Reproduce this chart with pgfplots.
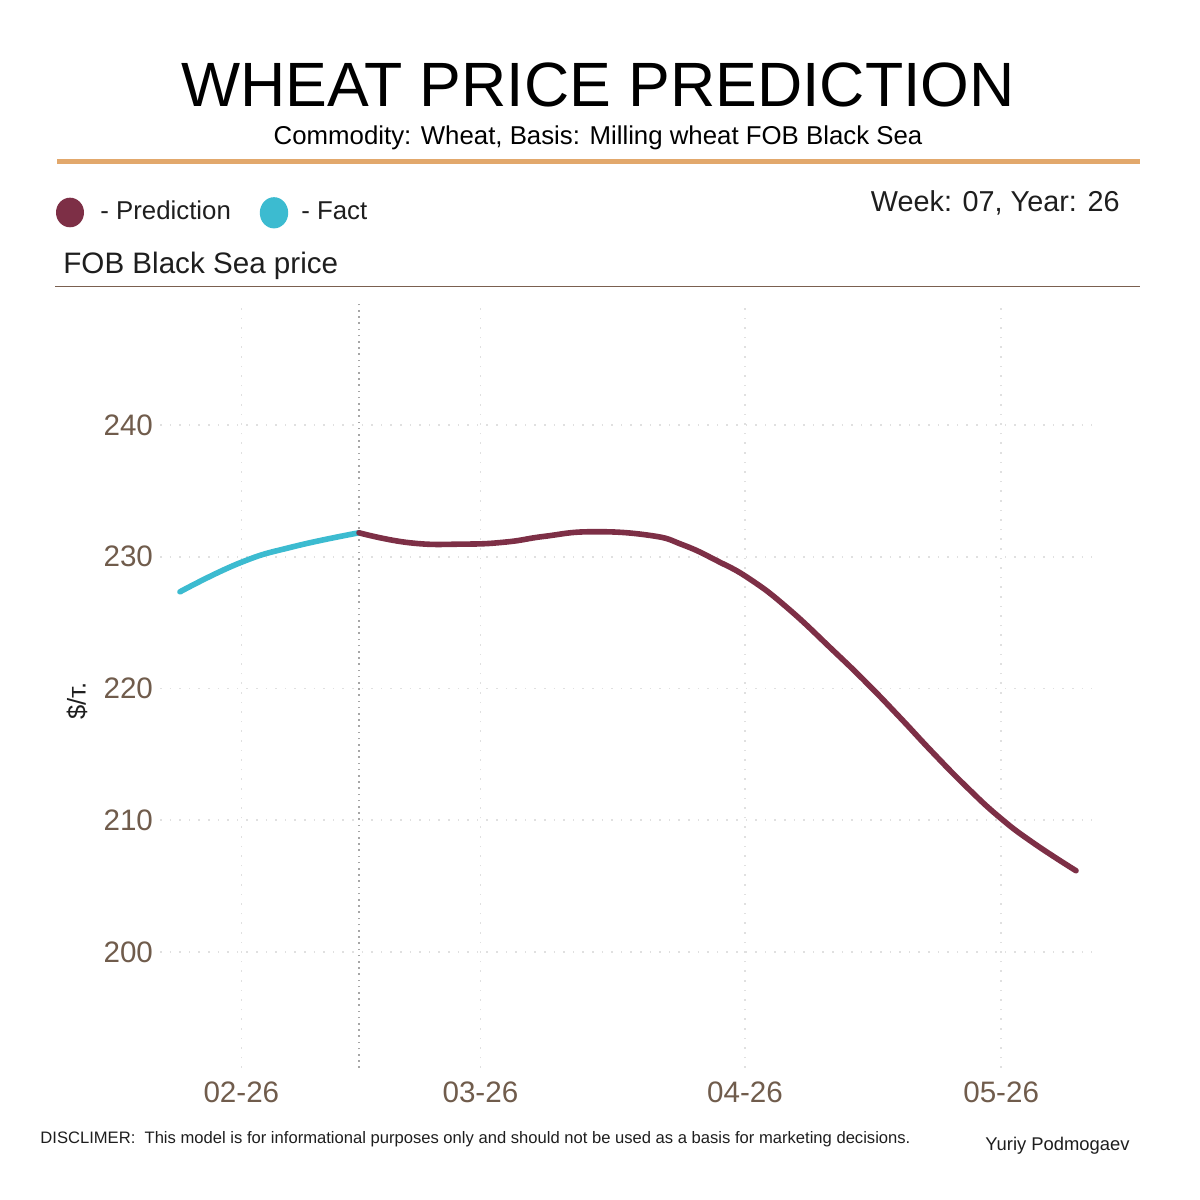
\documentclass[border=0pt]{standalone}
\usepackage{pgfplots}
\pgfplotsset{compat=1.18}
\usepackage{fontspec}
\setmainfont{Liberation Sans}

\definecolor{predcol}{RGB}{125,47,70}
\definecolor{factcol}{RGB}{60,187,208}
\definecolor{rulecol}{RGB}{226,168,108}
\definecolor{brownrule}{RGB}{122,96,80}
\definecolor{tickcol}{RGB}{112,92,76}
\definecolor{txt}{RGB}{30,30,30}

% day of year -> FOB Black Sea price, $/t
\pgfplotstableread{
day price
24.81 227.34
31.84 229.54
38.05 230.76
45.78 231.82
}\facttable
\pgfplotstableread{
day price
45.78 231.82
51.75 231.06
58.00 230.96
63.00 231.12
67.50 231.55
73.00 231.90
79.87 231.62
83.73 230.90
87.71 229.70
91.58 228.30
96.00 226.10
101.30 222.90
105.28 220.40
109.15 217.80
113.02 215.12
117.00 212.50
120.86 210.20
124.73 208.30
129.77 206.17
}\predtable

\begin{document}
\begin{tikzpicture}
\path[use as bounding box] (0,0) rectangle (600pt,600pt);

% header and footer, laid out on a 1200 x 1200 grid measured from the top-left
\begin{scope}[x=0.5pt,y=-0.5pt,yshift=600pt]
\node[anchor=base, font=\fontsize{31.3}{36}\selectfont, text=black] at (598,107) {WHEAT PRICE PREDICTION};
\node[anchor=base, font=\fontsize{12.9}{15}\selectfont, text=black] at (598,145) {Commodity: Wheat, Basis: Milling wheat FOB Black Sea};
\draw[rulecol, line width=2.5pt] (57,162) -- (1140,162);

\fill[predcol] (70,212.5) ellipse [x radius=7pt, y radius=7.4pt];
\node[anchor=base west, inner sep=0pt, font=\fontsize{12.9}{15}\selectfont, text=txt] at (100,220) {- Prediction};
\fill[factcol] (274,212.8) ellipse [x radius=7.1pt, y radius=7.8pt];
\node[anchor=base west, inner sep=0pt, font=\fontsize{12.9}{15}\selectfont, text=txt] at (301,220) {- Fact};
\node[anchor=base east, inner sep=0pt, font=\fontsize{14.4}{17}\selectfont, text=txt] at (1120,212) {Week: 07, Year: 26};

\node[anchor=base west, inner sep=0pt, font=\fontsize{14.8}{17}\selectfont, text=txt] at (63,274) {FOB Black Sea price};
\draw[brownrule, line width=0.7pt] (55,286.5) -- (1140,286.5);

\node[anchor=base west, inner sep=0pt, font=\fontsize{8.3}{10}\selectfont, text=txt] at (40,1144) {DISCLIMER:\ \ This model is for informational purposes only and should not be used as a basis for marketing decisions.};
\node[anchor=base east, inner sep=0pt, font=\fontsize{9.2}{11}\selectfont, text=txt] at (1130,1151) {Yuriy Podmogaev};
\end{scope}

\begin{axis}[
  at={(80pt,66pt)}, anchor=south west,
  scale only axis, width=466pt, height=382.5pt,
  xmin=22.47, xmax=131.64, ymin=191.2, ymax=249.26,
  axis line style={draw=none},
  tick style={draw=none},
  xtick={32,60,91,121},
  xticklabels={02-26,03-26,04-26,05-26},
  ytick={200,210,220,230,240},
  grid=major,
  major grid style={draw=black!12, line width=0.8pt, dash pattern=on 0.8pt off 4pt},
  ticklabel style={font=\fontsize{14.8}{17}\selectfont, text=tickcol},
  xticklabel style={yshift=-3.5pt},
  /pgf/number format/assume math mode=true,
  ylabel={\$/т.},
  every axis y label/.style={at={(axis description cs:-0.089,0.48)}, rotate=90, anchor=center},
  ylabel style={font=\fontsize{12.8}{15}\selectfont, text=txt},
  clip=false,
]
\draw[black!35, line width=1.2pt, dash pattern=on 0.8pt off 2.3pt]
  (axis cs:45.78,191.2) -- (axis cs:45.78,249.26);
\addplot[factcol, line width=2.8pt, line cap=round, smooth, tension=0.8] table[x=day, y=price] {\facttable};
\addplot[predcol, line width=2.8pt, line cap=round, smooth, tension=0.8] table[x=day, y=price] {\predtable};
\end{axis}
\end{tikzpicture}
\end{document}
